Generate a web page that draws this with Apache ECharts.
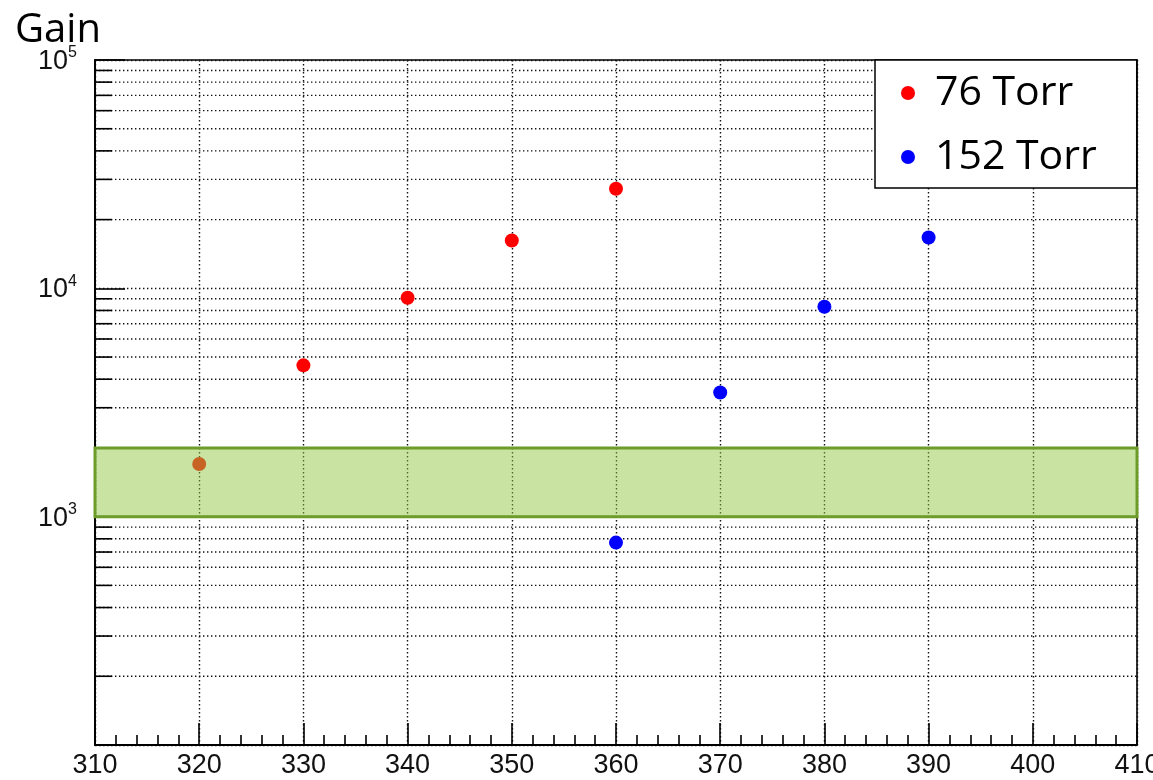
<!DOCTYPE html>
<html><head><meta charset="utf-8">
<script src="https://cdn.jsdelivr.net/npm/echarts@6/dist/echarts.min.js"></script>
<style>html,body{margin:0;padding:0;background:#fff}#c{width:1153px;height:780px}</style>
</head><body><div id="c"></div>
<script>
const seriesNames = ['76 Torr', '152 Torr'];
const voltage76 = [320, 330, 340, 350, 360];
const gain76 = [1700, 4600, 9100, 16200, 27300];
const voltage152 = [360, 370, 380, 390];
const gain152 = [770, 3500, 8300, 16700];
const bandGain = [1000, 2000];
const xRange = [310, 410];
const yRange = [100, 100000];
const gainTickExponents = [null, 3, 4, 5];
const minorGainTicks = [200, 300, 400, 500, 600, 700, 800, 900,
  2000, 3000, 4000, 5000, 6000, 7000, 8000, 9000,
  20000, 30000, 40000, 50000, 60000, 70000, 80000, 90000];

const dotStyle = {color: '#111', width: 1.4, type: [1.4, 2.6]};

function renderMinor(params, api) {
  const v = api.value(1);
  const a = api.coord([xRange[0], v]);
  const b = api.coord([xRange[1], v]);
  return {type: 'group', children: [
    {type: 'line', shape: {x1: a[0], y1: a[1], x2: b[0], y2: b[1]},
     style: {stroke: '#111', lineWidth: 1.4, lineDash: [1.4, 2.6]}},
    {type: 'line', shape: {x1: a[0], y1: a[1], x2: a[0] + 17, y2: a[1]},
     style: {stroke: '#000', lineWidth: 1.6}}
  ]};
}
function renderBand(params, api) {
  const p1 = api.coord([api.value(0), api.value(3)]);
  const p2 = api.coord([api.value(2), api.value(1)]);
  return {type: 'rect', shape: {x: p1[0], y: p1[1], width: p2[0] - p1[0], height: p2[1] - p1[1]},
    style: {fill: 'rgba(145,200,70,0.5)', stroke: '#6e9c2a', lineWidth: 3}};
}

const chart = echarts.init(document.getElementById('c'), null, {renderer: 'canvas'});
chart.setOption({
  backgroundColor: '#fff',
  animation: false,
  title: {text: 'Gain', left: 15, top: 10, padding: 0,
    textStyle: {fontSize: 40, fontFamily: 'Open Sans', fontWeight: 'normal', color: '#000', lineHeight: 42}},
  legend: {data: seriesNames, orient: 'vertical', left: 875, top: 60,
    padding: [9, 40, 7, 26], itemGap: 16, itemWidth: 14, itemHeight: 14, icon: 'circle',
    backgroundColor: '#fff', borderColor: '#000', borderWidth: 1.5, borderRadius: 0,
    textStyle: {fontSize: 41, fontFamily: 'Open Sans', color: '#000', lineHeight: 48, padding: [0, 0, 0, 15]}},
  grid: {left: 95, right: 16, top: 60, bottom: 35, containLabel: false, outerBoundsMode: 'none',
    show: true, borderColor: '#000', borderWidth: 1.6, backgroundColor: '#fff'},
  xAxis: {type: 'value', min: xRange[0], max: xRange[1], interval: 10,
    axisLine: {show: true, lineStyle: {color: '#000', width: 1.8}},
    axisTick: {show: true, inside: true, length: 22, lineStyle: {color: '#000', width: 1.6}},
    minorTick: {show: true, splitNumber: 5, length: 10, lineStyle: {color: '#000', width: 1.6}},
    splitLine: {show: true, lineStyle: dotStyle},
    axisLabel: {show: true, showMinLabel: true, showMaxLabel: true, margin: 7, fontSize: 27,
      fontFamily: 'Liberation Sans', color: '#111', hideOverlap: false}},
  yAxis: {type: 'log', logBase: 10, min: yRange[0], max: yRange[1],
    axisLine: {show: true, lineStyle: {color: '#000', width: 1.8}},
    axisTick: {show: true, inside: true, length: 30, lineStyle: {color: '#000', width: 1.6}},
    minorTick: {show: false},
    splitLine: {show: true, lineStyle: dotStyle},
    axisLabel: {show: true, margin: 18, color: '#111', showMinLabel: true, showMaxLabel: true,
      formatter: function (v, i) {
        const e = gainTickExponents[i];
        return e ? '{b|10}{s|' + e + '}' : '';
      },
      rich: {
        b: {fontSize: 27, fontFamily: 'Liberation Sans', color: '#111', lineHeight: 30, verticalAlign: 'bottom'},
        s: {fontSize: 16, fontFamily: 'Liberation Sans', color: '#111', lineHeight: 26, verticalAlign: 'top'}
      }}},
  series: [
    {type: 'custom', name: 'minor', z: 1, silent: true, renderItem: renderMinor,
      data: minorGainTicks.map(v => [xRange[0], v]), encode: {x: 0, y: 1}},
    {type: 'scatter', name: seriesNames[0], z: 2, symbol: 'circle', symbolSize: 14,
      itemStyle: {color: '#ff0000', opacity: 1}, data: voltage76.map((x, i) => [x, gain76[i]])},
    {type: 'scatter', name: seriesNames[1], z: 2, symbol: 'circle', symbolSize: 14,
      itemStyle: {color: '#0000ff', opacity: 1}, data: voltage152.map((x, i) => [x, gain152[i]])},
    {type: 'custom', name: 'band', z: 3, silent: true, renderItem: renderBand,
      data: [[xRange[0], bandGain[0], xRange[1], bandGain[1]]], encode: {x: [0, 2], y: [1, 3]}}
  ]
});
</script></body></html>
